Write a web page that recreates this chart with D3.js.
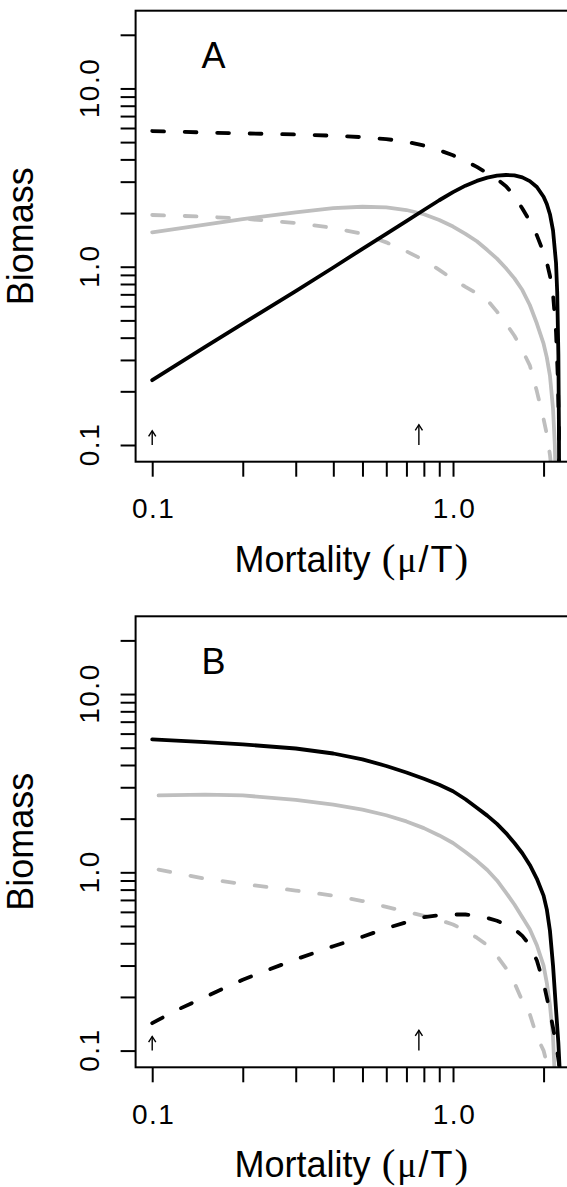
<!DOCTYPE html>
<html>
<head>
<meta charset="utf-8">
<script src="https://cdnjs.cloudflare.com/ajax/libs/d3/7.8.5/d3.min.js"></script>
<style>
  body { margin: 0; background: #fff; }
  svg { display: block; }
</style>
</head>
<body>
<div id="chart"></div>
<script>
// ---- values ----
const xLim = [0.1, 2.4];
const yLim = [0.1, 22];
const xTicks = [0.1, 0.2, 0.3, 0.4, 0.5, 0.6, 0.7, 0.8, 0.9, 1, 2];
const xTickLabels = { 0.1: "0.1", 1: "1.0" };
const yTicks = [0.1, 0.2, 0.3, 0.4, 0.5, 0.6, 0.7, 0.8, 0.9, 1, 2, 3, 4, 5, 6, 7, 8, 9, 10, 20];
const yTickLabels = { 0.1: "0.1", 1: "1.0", 10: "10.0" };
const arrowMu = [0.1, 0.77];
const arrowTop = [0.12, 0.13];
const panelLabels = ["A", "B"];

// panel A
const aSolidBlackMu = [0.1, 0.15, 0.2, 0.3, 0.4, 0.5, 0.6, 0.7, 0.8, 0.9, 1.0, 1.1, 1.2, 1.3, 1.4, 1.5, 1.6, 1.7, 1.8, 1.9, 2.0, 2.05, 2.1, 2.15, 2.2, 2.22, 2.24, 2.25, 2.26];
const aSolidBlack = [0.231, 0.355, 0.48, 0.73, 0.99, 1.26, 1.53, 1.8, 2.08, 2.36, 2.62, 2.85, 3.03, 3.16, 3.24, 3.27, 3.25, 3.17, 3.02, 2.8, 2.47, 2.25, 1.97, 1.6, 1.05, 0.72, 0.32, 0.12, 0.01];
const aDashBlackMu = [0.1, 0.15, 0.2, 0.3, 0.4, 0.5, 0.6, 0.7, 0.8, 0.9, 1.0, 1.1, 1.2, 1.3, 1.4, 1.5, 1.6, 1.7, 1.8, 1.9, 2.0, 2.05, 2.1, 2.15, 2.2, 2.23, 2.25, 2.26];
const aDashBlack = [5.77, 5.66, 5.6, 5.52, 5.43, 5.33, 5.2, 5.02, 4.78, 4.5, 4.22, 3.92, 3.63, 3.35, 3.1, 2.83, 2.5, 2.12, 1.8, 1.5, 1.2, 1.06, 0.89, 0.7, 0.43, 0.24, 0.12, 0.01];
const aSolidGreyMu = [0.1, 0.15, 0.2, 0.3, 0.4, 0.5, 0.6, 0.7, 0.8, 0.9, 1.0, 1.1, 1.2, 1.3, 1.4, 1.5, 1.6, 1.7, 1.8, 1.9, 2.0, 2.05, 2.1, 2.15, 2.18, 2.2, 2.21];
const aSolidGrey = [1.56, 1.72, 1.85, 2.02, 2.13, 2.17, 2.15, 2.08, 1.97, 1.83, 1.68, 1.53, 1.39, 1.24, 1.11, 0.98, 0.86, 0.74, 0.61, 0.48, 0.37, 0.31, 0.245, 0.16, 0.1, 0.05, 0.01];
const aDashGreyMu = [0.1, 0.15, 0.2, 0.3, 0.4, 0.5, 0.6, 0.7, 0.8, 0.9, 1.0, 1.1, 1.2, 1.3, 1.4, 1.5, 1.6, 1.7, 1.8, 1.9, 2.0, 2.05, 2.1, 2.13, 2.15, 2.16];
const aDashGrey = [1.95, 1.91, 1.86, 1.76, 1.65, 1.53, 1.37, 1.22, 1.09, 0.96, 0.85, 0.77, 0.71, 0.65, 0.56, 0.48, 0.41, 0.34, 0.28, 0.2, 0.14, 0.115, 0.088, 0.07, 0.04, 0.01];

// panel B
const bSolidBlackMu = [0.1, 0.15, 0.2, 0.3, 0.4, 0.5, 0.6, 0.7, 0.8, 0.9, 1.0, 1.1, 1.2, 1.3, 1.4, 1.5, 1.6, 1.7, 1.8, 1.9, 2.0, 2.05, 2.1, 2.15, 2.2, 2.24, 2.27, 2.29];
const bSolidBlack = [5.57, 5.38, 5.22, 4.95, 4.64, 4.3, 3.95, 3.63, 3.35, 3.1, 2.85, 2.57, 2.3, 2.08, 1.87, 1.66, 1.46, 1.28, 1.1, 0.92, 0.74, 0.62, 0.47, 0.3, 0.17, 0.11, 0.07, 0.01];
const bDashBlackMu = [0.1, 0.12, 0.15, 0.2, 0.3, 0.4, 0.5, 0.6, 0.7, 0.8, 0.9, 1.0, 1.1, 1.2, 1.3, 1.4, 1.5, 1.6, 1.7, 1.8, 1.9, 2.0, 2.1, 2.2, 2.25, 2.28, 2.29];
const bDashBlack = [0.1425, 0.168, 0.2, 0.25, 0.325, 0.385, 0.435, 0.485, 0.525, 0.56, 0.575, 0.58, 0.58, 0.57, 0.555, 0.535, 0.51, 0.48, 0.44, 0.39, 0.32, 0.24, 0.165, 0.11, 0.085, 0.05, 0.01];
const bSolidGreyMu = [0.105, 0.15, 0.2, 0.3, 0.4, 0.5, 0.6, 0.7, 0.8, 0.9, 1.0, 1.1, 1.2, 1.3, 1.4, 1.5, 1.6, 1.7, 1.8, 1.9, 2.0, 2.05, 2.1, 2.15, 2.18, 2.2];
const bSolidGrey = [2.70, 2.73, 2.7, 2.55, 2.4, 2.25, 2.09, 1.93, 1.77, 1.61, 1.46, 1.3, 1.16, 1.03, 0.9, 0.77, 0.66, 0.56, 0.48, 0.39, 0.3, 0.24, 0.18, 0.12, 0.07, 0.01];
const bDashGreyMu = [0.105, 0.15, 0.2, 0.3, 0.4, 0.5, 0.6, 0.7, 0.8, 0.9, 1.0, 1.1, 1.2, 1.3, 1.4, 1.5, 1.6, 1.7, 1.8, 1.9, 2.0, 2.05, 2.1, 2.13, 2.15];
const bDashGrey = [1.036, 0.92, 0.86, 0.79, 0.74, 0.69, 0.64, 0.6, 0.57, 0.54, 0.51, 0.47, 0.43, 0.39, 0.34, 0.29, 0.24, 0.19, 0.16, 0.12, 0.1, 0.085, 0.065, 0.04, 0.01];

// ---- layout ----
const width = 567, height = 1187;
const plotLeft = 135.6, plotRight = 584, plotHeight = 451;
const panelTops = [10.7, 616.3];
const tickLen = 15;
const GREY = "#bebebe";
const SANS = "'Liberation Sans', Arial, Helvetica, sans-serif";
const SERIF = "'Liberation Serif', 'Times New Roman', serif";

const zip = (xs, ys) => xs.map((x, i) => [x, ys[i]]);
const panels = [
    {
        label: panelLabels[0],
        series: [
            { pts: zip(aDashGreyMu, aDashGrey), color: GREY, dashed: true },
            { pts: zip(aSolidGreyMu, aSolidGrey), color: GREY, dashed: false },
            { pts: zip(aDashBlackMu, aDashBlack), color: "#000", dashed: true },
            { pts: zip(aSolidBlackMu, aSolidBlack), color: "#000", dashed: false }
        ]
    },
    {
        label: panelLabels[1],
        series: [
            { pts: zip(bDashGreyMu, bDashGrey), color: GREY, dashed: true },
            { pts: zip(bSolidGreyMu, bSolidGrey), color: GREY, dashed: false },
            { pts: zip(bDashBlackMu, bDashBlack), color: "#000", dashed: true },
            { pts: zip(bSolidBlackMu, bSolidBlack), color: "#000", dashed: false }
        ]
    }
];

// R style 4% padding on log axes
const padLog = (lim) => {
    const a = Math.log10(lim[0]), b = Math.log10(lim[1]);
    const p = (b - a) * 0.04;
    return [Math.pow(10, a - p), Math.pow(10, b + p)];
};

const svg = d3.select("#chart").append("svg")
    .attr("width", width)
    .attr("height", height)
    .style("background", "#fff");

const xScale = d3.scaleLog().domain(padLog(xLim)).range([plotLeft, plotRight]);

panels.forEach((panel, pi) => {
    const top = panelTops[pi];
    const bottom = top + plotHeight;
    const yScale = d3.scaleLog().domain(padLog(yLim)).range([bottom, top]);
    const g = svg.append("g").attr("class", "panel-" + panel.label);

    const clipId = "clip-" + pi;
    g.append("clipPath").attr("id", clipId)
        .append("rect")
        .attr("x", plotLeft).attr("y", top)
        .attr("width", plotRight - plotLeft).attr("height", plotHeight);

    // curves
    const line = d3.line().x((d) => xScale(d[0])).y((d) => yScale(d[1]));
    g.append("g").attr("clip-path", `url(#${clipId})`)
        .selectAll("path")
        .data(panel.series)
        .join("path")
        .attr("d", (d) => line(d.pts))
        .attr("fill", "none")
        .attr("stroke", (d) => d.color)
        .attr("stroke-width", 3.8)
        .attr("stroke-linecap", "round")
        .attr("stroke-linejoin", "round")
        .attr("stroke-dasharray", (d) => (d.dashed ? "11.8,20.7" : null));

    // arrows along the bottom
    const arrows = g.append("g").attr("class", "arrows")
        .selectAll("g")
        .data(arrowMu.map((m, i) => ({ mu: m, top: arrowTop[i] })))
        .join("g")
        .attr("stroke", "#000")
        .attr("stroke-width", 1.4)
        .attr("fill", "none");
    arrows.append("line")
        .attr("x1", (d) => xScale(d.mu)).attr("x2", (d) => xScale(d.mu))
        .attr("y1", yScale(yLim[0])).attr("y2", (d) => yScale(d.top));
    arrows.append("path")
        .attr("d", (d) => {
            const x = xScale(d.mu), y = yScale(d.top);
            return `M${x - 3.6},${y + 5.6}L${x},${y}L${x + 3.6},${y + 5.6}`;
        });

    // box
    g.append("rect")
        .attr("x", plotLeft).attr("y", top)
        .attr("width", plotRight - plotLeft).attr("height", plotHeight)
        .attr("fill", "none").attr("stroke", "#000").attr("stroke-width", 2);

    // y axis
    const yAxis = g.append("g")
        .attr("transform", `translate(${plotLeft},0)`)
        .call(d3.axisLeft(yScale).tickValues(yTicks).tickSize(tickLen).tickSizeOuter(0)
            .tickFormat((d) => yTickLabels[d] || ""));
    yAxis.select(".domain").remove();
    yAxis.selectAll(".tick line").attr("stroke-width", 2);
    yAxis.selectAll(".tick text")
        .attr("x", 1).attr("dy", 0).attr("y", -36.8)
        .attr("transform", "rotate(-90)")
        .attr("text-anchor", "middle")
        .attr("fill", "#000")
        .attr("font-family", SANS)
        .attr("font-size", 28)
        .attr("letter-spacing", 1.5);

    // x axis
    const xAxis = g.append("g")
        .attr("transform", `translate(0,${bottom})`)
        .call(d3.axisBottom(xScale).tickValues(xTicks).tickSize(tickLen).tickSizeOuter(0)
            .tickFormat((d) => xTickLabels[d] || ""));
    xAxis.select(".domain").remove();
    xAxis.selectAll(".tick line").attr("stroke-width", 2);
    xAxis.selectAll(".tick text")
        .attr("x", 1).attr("y", 56.6).attr("dy", 0)
        .attr("fill", "#000")
        .attr("font-family", SANS)
        .attr("font-size", 28)
        .attr("letter-spacing", 1.5);

    // axis titles
    g.append("text")
        .attr("transform", `translate(33.3,${(top + bottom) / 2}) rotate(-90)`)
        .attr("text-anchor", "middle")
        .attr("font-family", SANS)
        .attr("font-size", 36)
        .text("Biomass");

    const xt = g.append("text")
        .attr("x", plotLeft + 99)
        .attr("y", bottom + 110)
        .attr("font-family", SANS)
        .attr("font-size", 36);
    xt.append("tspan").text("Mortality ");
    xt.append("tspan").attr("dx", 1).attr("font-family", SERIF).attr("font-size", 41).text("(");
    xt.append("tspan").attr("dx", 2).attr("font-family", SERIF).text("\u03bc");
    xt.append("tspan").attr("dx", 2).text("/");
    xt.append("tspan").attr("dx", 2).text("T");
    xt.append("tspan").attr("dx", 2).attr("font-family", SERIF).attr("font-size", 41).text(")");

    // panel letter
    g.append("text")
        .attr("x", xScale(0.16))
        .attr("y", yScale(13))
        .attr("text-anchor", "middle")
        .attr("font-family", SANS)
        .attr("font-size", 36)
        .text(panel.label);
});
</script>
</body>
</html>
